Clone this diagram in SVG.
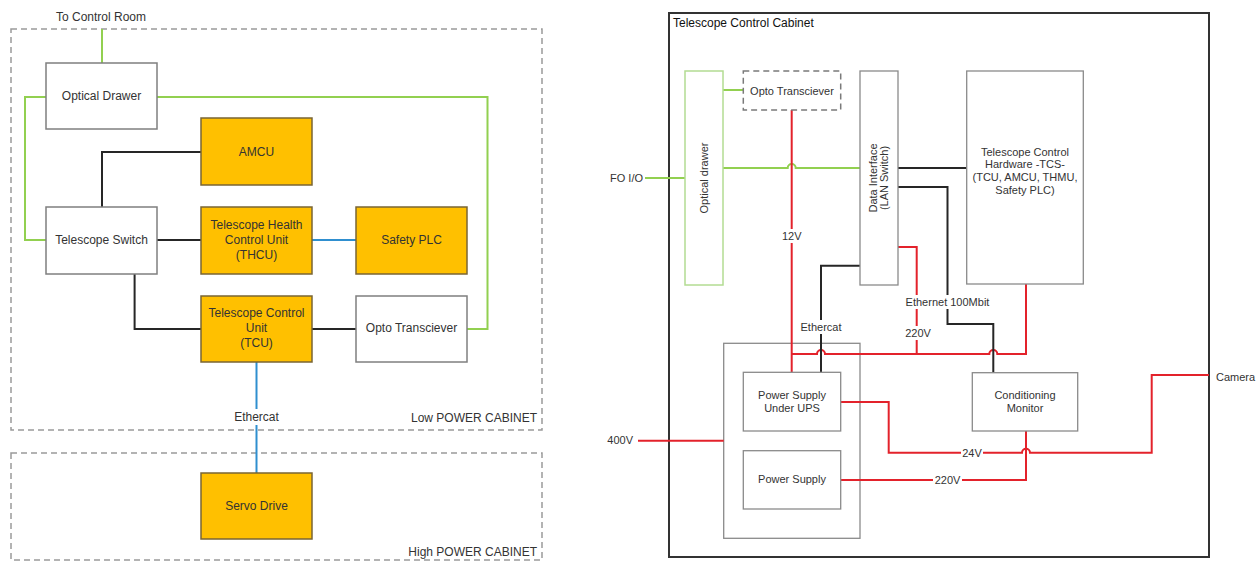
<svg xmlns="http://www.w3.org/2000/svg" width="1256" height="562" viewBox="0 0 1256 562">
<style>
text{font-family:"Liberation Sans",Arial,sans-serif;fill:#333}
.l{font-size:12px;text-anchor:middle}
.r{font-size:11px;text-anchor:middle}
.wbox{fill:#fff;stroke:#7f7f7f;stroke-width:1.5}
.obox{fill:#ffc000;stroke:#7a6534;stroke-width:1.5}
.cab{fill:none;stroke:#9a9a9a;stroke-width:1.5;stroke-dasharray:6 4}
.gbox{fill:#fff;stroke:#8a8a8a;stroke-width:1.3}
.obx{fill:none;stroke:#8a8a8a;stroke-width:1.3}
.c{fill:none;stroke-width:2}
.g{stroke:#92d050}
.k{stroke:#262626}
.b{stroke:#2f8fcf}
.red{stroke:#e3222b}
.bg{fill:#fff}
</style>
<rect width="1256" height="562" fill="#fff"/>

<!-- Left diagram cabinets -->
<g id="low-power-cabinet">
<rect class="cab" x="11" y="29" width="531" height="401"/>
<text x="537" y="422" style="font-size:12px;text-anchor:end">Low POWER CABINET</text>
</g>
<g id="high-power-cabinet">
<rect class="cab" x="11" y="453" width="531" height="107"/>
<text x="537" y="556" style="font-size:12px;text-anchor:end">High POWER CABINET</text>
</g>
<text x="101" y="21" class="l">To Control Room</text>

<!-- Right cabinet -->
<g id="telescope-control-cabinet">
<rect x="669" y="13" width="540" height="544" fill="none" stroke="#333" stroke-width="2"/>
<text x="673" y="27" style="font-size:12px;fill:#111">Telescope Control Cabinet</text>
</g>
<g id="power-supplies">
<rect class="obx" x="723.7" y="343.3" width="136.3" height="195"/>
</g>

<!-- Connectors -->
<g id="connectors">
<path class="c g" d="M102,29 V63"/>
<path class="c g" d="M46,97 H25 V240 H46"/>
<path class="c g" d="M157,97 H487.5 V329 H467"/>
<path class="c k" d="M201,152 H102 V207"/>
<path class="c k" d="M157,240 H201"/>
<path class="c b" d="M312,240 H356"/>
<path class="c k" d="M134.6,274 V329 H201"/>
<path class="c k" d="M312,329 H356"/>
<path class="c b" d="M256.5,362 V473"/>
<rect class="bg" x="230" y="409" width="53" height="16"/>
<text x="256.5" y="421" class="l">Ethercat</text>

<path class="c g" d="M645,178 H685"/>
<path class="c g" d="M723,90 H743.3"/>
<path class="c g" d="M723,168 H787.7 a4,4 0 0 1 8,0 H860"/>
<path class="c red" d="M791.7,110 V372.3"/>
<path class="c red" d="M791.7,354 H817 a4,4 0 0 1 8,0 H989.3 a4,4 0 0 1 8,0 H1026 V284"/>
<path class="c red" d="M898,247 H916.7 V354"/>
<path class="c k" d="M898,168 H966.7"/>
<path class="c k" d="M898,187 H947.5 V324 H993.3 V372.7"/>
<path class="c k" d="M860,265.7 H821 V372.3"/>
<path class="c red" d="M638,440.7 H723.7"/>
<path class="c red" d="M840.7,402 H888.7 V452.7 H1022 a4,4 0 0 1 8,0 H1151.7 V375 H1209"/>
<path class="c red" d="M840.7,480 H1026 V431"/>

<rect class="bg" x="780" y="229" width="23" height="14"/>
<text x="791.7" y="240" class="r">12V</text>
<rect class="bg" x="800" y="320" width="42" height="14"/>
<text x="821" y="331" class="r">Ethercat</text>
<rect class="bg" x="905" y="295" width="85" height="14"/>
<text x="947.5" y="306" class="r">Ethernet 100Mbit</text>
<rect class="bg" x="904" y="326" width="28" height="14"/>
<text x="918" y="337" class="r">220V</text>
<rect class="bg" x="961" y="446" width="22" height="14"/>
<text x="972" y="457" class="r">24V</text>
<rect class="bg" x="933" y="473" width="29" height="14"/>
<text x="947.5" y="484" class="r">220V</text>
<text x="643" y="182" style="font-size:11px;text-anchor:end">FO I/O</text>
<text x="633" y="444" style="font-size:11px;text-anchor:end">400V</text>
<text x="1216" y="381" style="font-size:11px">Camera</text>
</g>

<!-- Left nodes -->
<g id="optical-drawer">
<rect class="wbox" x="46" y="63" width="111" height="66"/>
<text x="101.5" y="100" class="l">Optical Drawer</text>
</g>
<g id="amcu">
<rect class="obox" x="201" y="118" width="111" height="67"/>
<text x="256.5" y="156" class="l">AMCU</text>
</g>
<g id="telescope-switch">
<rect class="wbox" x="46" y="207" width="111" height="67"/>
<text x="101.5" y="244" class="l">Telescope Switch</text>
</g>
<g id="thcu">
<rect class="obox" x="201" y="207" width="111" height="67"/>
<text class="l"><tspan x="256.5" y="229">Telescope Health</tspan><tspan x="256.5" y="244">Control Unit</tspan><tspan x="256.5" y="259">(THCU)</tspan></text>
</g>
<g id="safety-plc">
<rect class="obox" x="356" y="207" width="111" height="67"/>
<text x="411.5" y="244" class="l">Safety PLC</text>
</g>
<g id="tcu">
<rect class="obox" x="201" y="296" width="111" height="66"/>
<text class="l"><tspan x="256.5" y="317">Telescope Control</tspan><tspan x="256.5" y="332">Unit</tspan><tspan x="256.5" y="347">(TCU)</tspan></text>
</g>
<g id="opto-transciever-left">
<rect class="wbox" x="356" y="296" width="111" height="66"/>
<text x="411.5" y="332" class="l">Opto Transciever</text>
</g>
<g id="servo-drive">
<rect class="obox" x="201" y="473" width="111" height="66"/>
<text x="256.5" y="510" class="l">Servo Drive</text>
</g>

<!-- Right nodes -->
<g id="optical-drawer-right">
<rect x="685" y="71" width="38" height="214" fill="#fff" stroke="#b3dc92" stroke-width="1.5"/>
<text class="r" transform="translate(704,178) rotate(-90)" x="0" y="4">Optical drawer</text>
</g>
<g id="opto-transciever-right">
<rect x="743.3" y="71" width="97.4" height="39" fill="#fff" stroke="#7a7a7a" stroke-width="1.5" stroke-dasharray="6 4"/>
<text x="792" y="94.5" class="r">Opto Transciever</text>
</g>
<g id="data-interface">
<rect class="gbox" x="860" y="71" width="38" height="214"/>
<text class="r" transform="translate(879,178) rotate(-90)"><tspan x="0" y="-2.3">Data Interface</tspan><tspan x="0" y="9">(LAN Switch)</tspan></text>
</g>
<g id="tcs-hardware">
<rect class="gbox" x="966.7" y="71" width="116.6" height="213"/>
<text class="r"><tspan x="1025" y="155.7">Telescope Control</tspan><tspan x="1025" y="168">Hardware -TCS-</tspan><tspan x="1025" y="180.7">(TCU, AMCU, THMU,</tspan><tspan x="1025" y="194">Safety PLC)</tspan></text>
</g>
<g id="power-supply-ups">
<rect class="gbox" x="743.3" y="372.3" width="97.4" height="58.7"/>
<text class="r"><tspan x="792" y="399">Power Supply</tspan><tspan x="792" y="411.7">Under UPS</tspan></text>
</g>
<g id="power-supply">
<rect class="gbox" x="743.3" y="450.7" width="97.4" height="58.3"/>
<text x="792" y="483.3" class="r">Power Supply</text>
</g>
<g id="conditioning-monitor">
<rect class="gbox" x="972.3" y="372.7" width="105.4" height="58.3"/>
<text class="r"><tspan x="1025" y="399">Conditioning</tspan><tspan x="1025" y="412">Monitor</tspan></text>
</g>
</svg>
